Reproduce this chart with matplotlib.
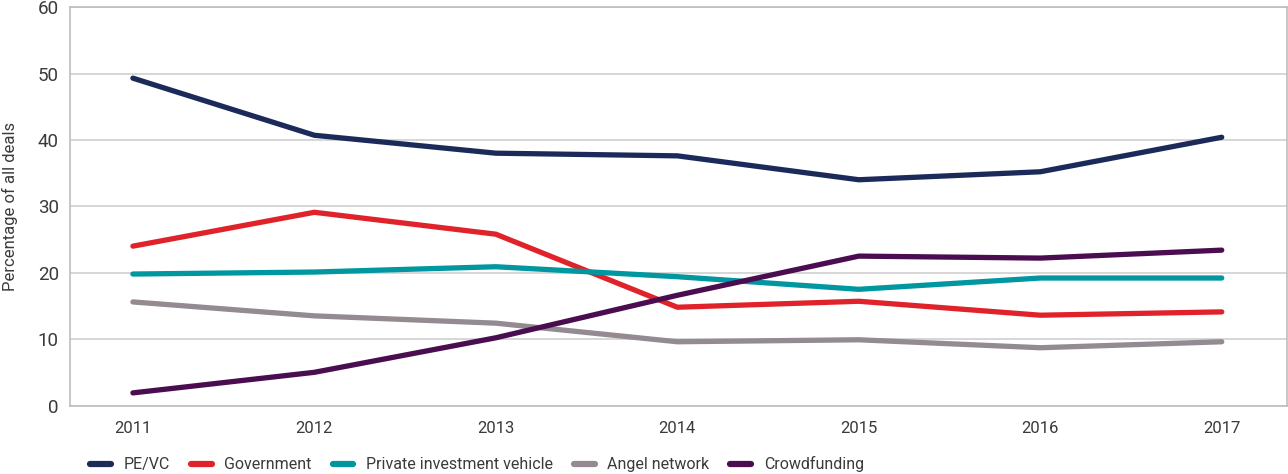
import matplotlib
matplotlib.use('Agg')
import matplotlib.pyplot as plt

# 数据
years = [2011, 2012, 2013, 2014, 2015, 2016, 2017]
pe_vc = [49.3, 40.7, 38.0, 37.6, 34.0, 35.2, 40.4]
government = [24.0, 29.1, 25.8, 14.8, 15.7, 13.6, 14.1]
private_vehicle = [19.8, 20.1, 20.9, 19.4, 17.5, 19.2, 19.2]
angel_network = [15.6, 13.5, 12.4, 9.6, 9.9, 8.7, 9.6]
crowdfunding = [1.9, 5.0, 10.2, 16.6, 22.5, 22.2, 23.4]

series_names = ['PE/VC', 'Government', 'Private investment vehicle',
                'Angel network', 'Crowdfunding']
series_values = [pe_vc, government, private_vehicle, angel_network, crowdfunding]
colors = ['#1c2a5a', '#e0232a', '#0097a0', '#948a91', '#4a0d4f']

plt.rcParams['font.family'] = ['Roboto', 'DejaVu Sans']
text_color = '#3a3a3a'

fig = plt.figure(figsize=(12.88, 4.74), dpi=100)
ax = fig.add_axes([0.0543, 0.1445, 0.9447, 0.8405])

for name, vals, c in zip(series_names, series_values, colors):
    ax.plot(years, vals, color=c, linewidth=3.8, solid_capstyle='round',
            solid_joinstyle='round', label=name)

ax.set_xlim(2011 - 0.347, 2017 + 0.358)
ax.set_ylim(0, 60)
ax.set_yticks(range(0, 61, 10))
ax.set_xticks(years)
ax.grid(axis='y', color='#cfcfcf', linewidth=1.2)
ax.set_axisbelow(True)
for s in ax.spines.values():
    s.set_color('#bdbdbd')
    s.set_linewidth(1.2)
ax.tick_params(length=0, labelcolor=text_color)
ax.tick_params(axis='x', pad=11, labelsize=12)
ax.tick_params(axis='y', pad=8, labelsize=13.5)
ax.set_ylabel('Percentage of all deals', fontsize=12, color=text_color, labelpad=14)

leg = fig.legend(loc='lower left', bbox_to_anchor=(0.059, -0.027), ncol=5,
                 frameon=False, fontsize=11.5, handlelength=1.3,
                 handletextpad=0.8, columnspacing=1.3, labelcolor=text_color)
for h in leg.get_lines():
    h.set_linewidth(4.5)

fig.savefig('out.png', dpi=100)
